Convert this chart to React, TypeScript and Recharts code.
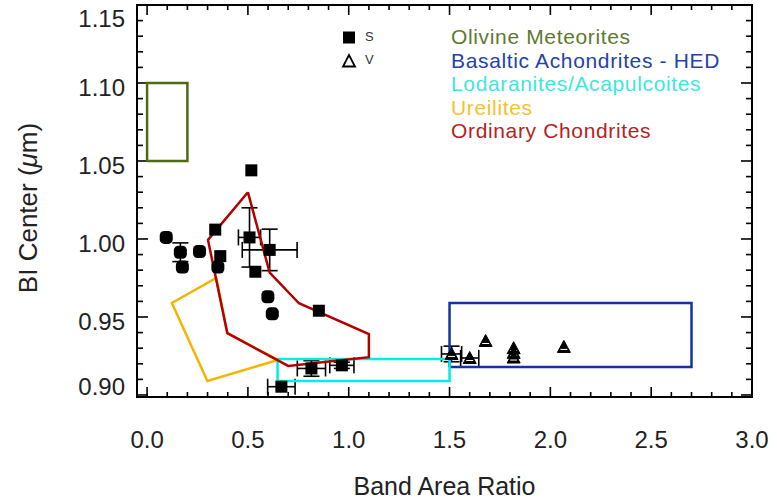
import React from 'react';
import { ScatterChart, Scatter, XAxis, YAxis, ErrorBar, ReferenceLine, ReferenceArea, Label, Legend } from 'recharts';

// ---------- data ----------
const xMajorTicks = [0, 0.5, 1.0, 1.5, 2.0, 2.5, 3.0];
const yMajorTicks = [0.9, 0.95, 1.0, 1.05, 1.1, 1.15];
const xMinorTicks = [0.1, 0.2, 0.3, 0.4, 0.6, 0.7, 0.8, 0.9, 1.1, 1.2, 1.3, 1.4, 1.6, 1.7, 1.8, 1.9, 2.1, 2.2, 2.3, 2.4, 2.6, 2.7, 2.8, 2.9];
const yMinorTicks = [0.91, 0.92, 0.93, 0.94, 0.96, 0.97, 0.98, 0.99, 1.01, 1.02, 1.03, 1.04, 1.06, 1.07, 1.08, 1.09, 1.11, 1.12, 1.13, 1.14];
const xDomain = [-0.05, 3.0];
const yDomain = [0.8987, 1.15];

const olivineRegion = [
  { x: 0, y: 1.05 }, { x: 0.2, y: 1.05 }, { x: 0.2, y: 1.1 }, { x: 0, y: 1.1 }, { x: 0, y: 1.05 },
];
const hedRegion = [
  { x: 1.5, y: 0.918 }, { x: 2.7, y: 0.918 }, { x: 2.7, y: 0.959 }, { x: 1.5, y: 0.959 }, { x: 1.5, y: 0.918 },
];
const lodaraniteRegion = [
  { x: 0.647, y: 0.909 }, { x: 1.5, y: 0.909 }, { x: 1.5, y: 0.923 }, { x: 0.647, y: 0.923 }, { x: 0.647, y: 0.909 },
];
const ureiliteRegion = [
  { x: 0.398, y: 0.9396 }, { x: 0.343, y: 0.975 }, { x: 0.123, y: 0.959 }, { x: 0.299, y: 0.909 }, { x: 0.649, y: 0.9224 }, { x: 0.398, y: 0.9396 },
];
const ordinaryRegion = [
  { x: 0.5, y: 1.03 }, { x: 0.302, y: 0.9994 }, { x: 0.398, y: 0.9396 }, { x: 0.7, y: 0.9186 }, { x: 1.1, y: 0.9242 },
  { x: 1.1, y: 0.939 }, { x: 0.753, y: 0.9588 }, { x: 0.608, y: 0.9784 }, { x: 0.5, y: 1.03 },
];

const sSquare = [
  { x: 0.338, y: 1.006 }, { x: 0.363, y: 0.989 }, { x: 0.517, y: 1.044 }, { x: 0.537, y: 0.979 }, { x: 0.852, y: 0.954 },
];
const sSquareErr = [
  { x: 0.508, y: 1.001, ex: 0.055, ey: 0.019 },
  { x: 0.608, y: 0.993, ex: 0.136, ey: 0.0133 },
  { x: 0.815, y: 0.917, ex: 0.07, ey: 0.005 },
  { x: 0.966, y: 0.919, ex: 0.06, ey: 0.002 },
  { x: 0.666, y: 0.9053, ex: 0.068, ey: 0 },
];
const sRound = [
  { x: 0.095, y: 1.001 }, { x: 0.175, y: 0.982 }, { x: 0.26, y: 0.992 }, { x: 0.351, y: 0.982 }, { x: 0.599, y: 0.963 }, { x: 0.621, y: 0.952 },
];
const sRoundErr = [{ x: 0.165, y: 0.9915, ex: 0, ey: 0.006 }];
const vErr = [
  { x: 1.51, y: 0.9263, ex: 0.05, ey: 0.005 },
  { x: 1.6, y: 0.9237, ex: 0.045, ey: 0 },
];
const vPlain = [
  { x: 1.679, y: 0.9346 }, { x: 1.818, y: 0.93 }, { x: 1.818, y: 0.927 }, { x: 1.818, y: 0.924 }, { x: 2.067, y: 0.9308 },
];

const regionNames = ['Olivine Meteorites', 'Basaltic Achondrites - HED', 'Lodaranites/Acapulcoites', 'Ureilites', 'Ordinary Chondrites'];
const markerNames = ['S', 'V'];
const xTitle = 'Band Area Ratio';

// ---------- styles ----------
const FONT = '"Liberation Sans", Arial, Helvetica, sans-serif';
const regionTextColors = ['#5d7a30', '#2443a8', '#3fe6de', '#f4c22e', '#b82222'];
const regionLineColors = { olivine: '#4e6b14', hed: '#1234a0', lod: '#00efe4', ure: '#f4b400', ord: '#b30000' };

const SquareShape = (p: any) => <rect x={p.cx - 6} y={p.cy - 6} width={12} height={12} fill="#000" />;
const RoundShape = (p: any) => <rect x={p.cx - 6.5} y={p.cy - 6.5} width={13} height={13} rx={4.5} fill="#000" />;
const TriShape = (p: any) => (
  <g>
    <polygon points={`${p.cx - 6.5},${p.cy + 5.5} ${p.cx + 6.5},${p.cy + 5.5} ${p.cx},${p.cy - 6.5}`} fill="#000" stroke="#000" strokeWidth={1} />
    <line x1={p.cx - 3.5} y1={p.cy + 2.5} x2={p.cx + 3.5} y2={p.cy + 2.5} stroke="#fff" strokeWidth={1} />
  </g>
);
const Nothing = () => <g />;

const vTick = (len: number) => (p: any) => {
  const d = p.y2 > p.y1 ? 1 : -1;
  return (
    <g stroke="#000" strokeWidth={1.6}>
      <line x1={p.x1} y1={p.y1} x2={p.x1} y2={p.y1 + d * len} />
      <line x1={p.x2} y1={p.y2} x2={p.x2} y2={p.y2 - d * len} />
    </g>
  );
};
const hTick = (len: number) => (p: any) => {
  const d = p.x2 > p.x1 ? 1 : -1;
  return (
    <g stroke="#000" strokeWidth={1.6}>
      <line x1={p.x1} y1={p.y1} x2={p.x1 + d * len} y2={p.y1} />
      <line x1={p.x2} y1={p.y2} x2={p.x2 - d * len} y2={p.y2} />
    </g>
  );
};

const XTickLabel = (p: any) => (
  <text x={p.x} y={p.y} dy="0.71em" textAnchor="middle" fontFamily={FONT} fontSize={24} fill="#222">
    {Number(p.payload.value).toFixed(1)}
  </text>
);
const YTickLabel = (p: any) => {
  const v = Number(p.payload.value);
  // edge labels are pulled inside the frame, as in the reference
  const shift = v >= yMajorTicks[yMajorTicks.length - 1] ? 13 : v <= yMajorTicks[0] ? -8 : 4.5;
  return (
    <text x={p.x} y={p.y + shift} dy="0.355em" textAnchor="end" fontFamily={FONT} fontSize={24} fill="#222">
      {v.toFixed(2)}
    </text>
  );
};

const LegendContent = () => (
  <svg width={440} height={160} style={{ display: 'block', overflow: 'visible' }}>
    <g transform="translate(-330,0)">
      <rect x={343} y={31.5} width={12} height={12} fill="#000" />
      <text x={365} y={41} fontFamily={FONT} fontSize={13} fill="#333">{markerNames[0]}</text>
      <polygon points="343,66.5 355,66.5 349,55" fill="#fff" stroke="#000" strokeWidth={1.8} />
      <text x={365} y={64} fontFamily={FONT} fontSize={13} fill="#333">{markerNames[1]}</text>
      {regionNames.map((n, i) => (
        <text key={n} x={451} y={44 + i * 23.5} fontFamily={FONT} fontSize={21} letterSpacing={0.65} fill={regionTextColors[i]}>{n}</text>
      ))}
    </g>
  </svg>
);

export default function App() {
  return (
    <div style={{ position: 'absolute', left: 0, top: 0, width: 777, height: 502, background: '#fff' }}>
      <ScatterChart width={777} height={502} margin={{ top: 5, right: 25, bottom: 0, left: 0 }}>
        <XAxis
          type="number"
          dataKey="x"
          domain={xDomain}
          allowDataOverflow
          ticks={xMajorTicks}
          interval={0}
          tickLine={false}
          axisLine={false}
          tickSize={0}
          tickMargin={34}
          height={105}
          tick={<XTickLabel />}
        >
          <Label
            content={(lp: any) => {
              const vb = lp.viewBox || {};
              return (
                <text x={vb.x + vb.width / 2} y={495} textAnchor="middle" fontFamily={FONT} fontSize={25} fill="#222">
                  {xTitle}
                </text>
              );
            }}
          />
        </XAxis>
        <YAxis
          type="number"
          dataKey="y"
          domain={yDomain}
          allowDataOverflow
          ticks={yMajorTicks}
          interval={0}
          tickLine={false}
          axisLine={false}
          tickSize={0}
          tickMargin={12}
          width={137}
          tick={<YTickLabel />}
        >
          <Label
            content={() => (
              <text x={37} y={208} transform="rotate(-90 37 208)" textAnchor="middle" fontFamily={FONT} fontSize={26} fill="#222">
                BI Center (<tspan fontStyle="italic">μ</tspan>m)
              </text>
            )}
          />
        </YAxis>
        <Legend layout="horizontal" verticalAlign="middle" align="center" content={<LegendContent />}
          wrapperStyle={{ position: 'absolute', left: 330, top: 0, width: 440, height: 160, pointerEvents: 'none' }} />

        <ReferenceArea x1={xDomain[0]} x2={xDomain[1]} y1={yDomain[0]} y2={yDomain[1]} fill="none" stroke="#000" strokeWidth={2} ifOverflow="visible" />
        {xMinorTicks.map((v) => <ReferenceLine key={'xm' + v} x={v} shape={vTick(5)} />)}
        {xMajorTicks.map((v) => <ReferenceLine key={'xM' + v} x={v} shape={vTick(10)} ifOverflow="visible" />)}
        {yMinorTicks.map((v) => <ReferenceLine key={'ym' + v} y={v} shape={hTick(6)} />)}
        {yMajorTicks.map((v) => <ReferenceLine key={'yM' + v} y={v} shape={hTick(11)} ifOverflow="visible" />)}

        <Scatter data={olivineRegion} line={{ stroke: regionLineColors.olivine, strokeWidth: 2.5 }} shape={Nothing} isAnimationActive={false} legendType="none" />
        <Scatter data={hedRegion} line={{ stroke: regionLineColors.hed, strokeWidth: 2.5 }} shape={Nothing} isAnimationActive={false} legendType="none" />
        <Scatter data={lodaraniteRegion} line={{ stroke: regionLineColors.lod, strokeWidth: 2.5 }} shape={Nothing} isAnimationActive={false} legendType="none" />
        <Scatter data={ureiliteRegion} line={{ stroke: regionLineColors.ure, strokeWidth: 2.5 }} shape={Nothing} isAnimationActive={false} legendType="none" />
        <Scatter data={ordinaryRegion} line={{ stroke: regionLineColors.ord, strokeWidth: 2.5 }} shape={Nothing} isAnimationActive={false} legendType="none" />

        <Scatter data={sRound} shape={RoundShape} isAnimationActive={false} legendType="none" />
        <Scatter data={sRoundErr} shape={RoundShape} isAnimationActive={false} legendType="none">
          <ErrorBar dataKey="ey" direction="y" width={8} stroke="#000" strokeWidth={1.6} />
        </Scatter>
        <Scatter data={sSquare} shape={SquareShape} isAnimationActive={false} legendType="none" />
        <Scatter data={sSquareErr} shape={SquareShape} isAnimationActive={false} legendType="none">
          <ErrorBar dataKey="ex" direction="x" width={8} stroke="#000" strokeWidth={1.6} />
          <ErrorBar dataKey="ey" direction="y" width={8} stroke="#000" strokeWidth={1.6} />
        </Scatter>
        <Scatter data={vErr} shape={TriShape} isAnimationActive={false} legendType="none">
          <ErrorBar dataKey="ex" direction="x" width={8} stroke="#000" strokeWidth={1.6} />
          <ErrorBar dataKey="ey" direction="y" width={8} stroke="#000" strokeWidth={1.6} />
        </Scatter>
        <Scatter data={vPlain} shape={TriShape} isAnimationActive={false} legendType="none" />
      </ScatterChart>
    </div>
  );
}
